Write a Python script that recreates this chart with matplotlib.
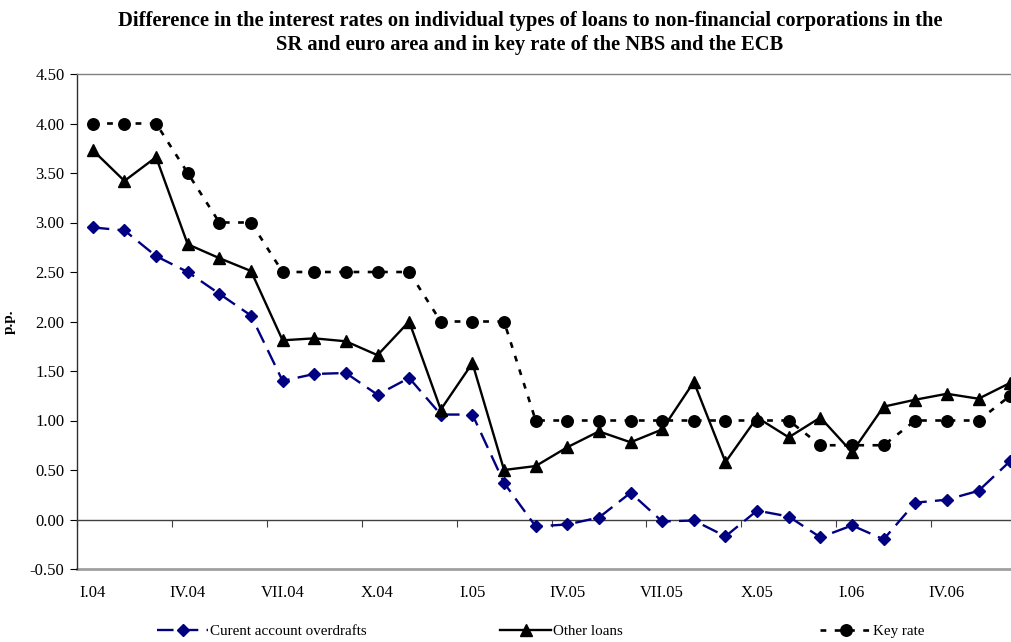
import matplotlib
matplotlib.use("Agg")
import matplotlib.pyplot as plt

plt.rcParams['font.family'] = ['Liberation Serif', 'DejaVu Serif']

months = ["I.04", "II.04", "III.04", "IV.04", "V.04", "VI.04", "VII.04", "VIII.04", "IX.04",
          "X.04", "XI.04", "XII.04", "I.05", "II.05", "III.05", "IV.05", "V.05", "VI.05",
          "VII.05", "VIII.05", "IX.05", "X.05", "XI.05", "XII.05", "I.06", "II.06", "III.06",
          "IV.06", "V.06", "VI.06"]

overdrafts = [2.95, 2.92, 2.66, 2.50, 2.28, 2.06, 1.40, 1.47, 1.48, 1.26,
              1.43, 1.06, 1.06, 0.37, -0.07, -0.05, 0.02, 0.27, -0.02, -0.01,
              -0.17, 0.09, 0.03, -0.18, -0.06, -0.20, 0.17, 0.20, 0.29, 0.59]
other_loans = [3.73, 3.42, 3.66, 2.78, 2.64, 2.51, 1.81, 1.83, 1.80, 1.66,
               2.00, 1.11, 1.58, 0.50, 0.54, 0.73, 0.89, 0.78, 0.91, 1.39,
               0.58, 1.03, 0.83, 1.03, 0.68, 1.14, 1.21, 1.27, 1.22, 1.38]
key_rate = [4.00, 4.00, 4.00, 3.50, 3.00, 3.00, 2.50, 2.50, 2.50, 2.50,
            2.50, 2.00, 2.00, 2.00, 1.00, 1.00, 1.00, 1.00, 1.00, 1.00,
            1.00, 1.00, 1.00, 0.75, 0.75, 0.75, 1.00, 1.00, 1.00, 1.25]

series_labels = ["Curent account overdrafts", "Other loans", "Key rate"]
yticks = [-0.5, 0.0, 0.5, 1.0, 1.5, 2.0, 2.5, 3.0, 3.5, 4.0, 4.5]

W, H = 1011, 642
fig = plt.figure(figsize=(W / 100, H / 100), dpi=100)
ax = fig.add_axes([77 / W, 1 - 569 / H, (1026 - 77) / W, (569 - 74) / H])

x = list(range(len(months)))

l1, = ax.plot(x, overdrafts, color='#000080', lw=1.7, dashes=(7, 3.5),
              marker='D', markersize=6.5, markerfacecolor='#000080',
              markeredgecolor='#000080', zorder=3)
l2, = ax.plot(x, other_loans, color='black', lw=1.7, linestyle='-',
              marker='^', markersize=8, markerfacecolor='black',
              markeredgecolor='black', zorder=4)
l3, = ax.plot(x, key_rate, color='black', lw=1.9, dashes=(2.2, 3.2),
              marker='o', markersize=8.3, markerfacecolor='black',
              markeredgecolor='black', zorder=5)

ax.set_xlim(-0.5, len(months) - 0.5)
ax.set_ylim(-0.5, 4.5)
ax.set_yticks(yticks)
ax.set_yticklabels([f"{v:.2f}" for v in yticks], fontsize=12)

# x axis crossing at zero, labels every quarter placed below the plot area
ax.spines['bottom'].set_position(('data', 0))
ax.spines['bottom'].set_color('#404040')
ax.spines['bottom'].set_linewidth(1.0)
ax.set_xticks([i - 0.5 for i in range(0, len(months), 3)] + [len(months) - 0.5])
ax.set_xticklabels([])
ax.set_xticks(list(range(0, len(months), 3)), minor=True)
ax.set_xticklabels([months[i] for i in range(0, len(months), 3)], minor=True, fontsize=12)
ax.tick_params(axis='x', which='major', direction='out', length=5, width=0.8, color='#404040')
ax.tick_params(axis='x', which='minor', length=0, pad=47)
ax.tick_params(axis='y', direction='out', length=5, width=0.8, pad=4)

ax.spines['left'].set_color('#303030')
ax.spines['left'].set_linewidth(1.0)
ax.spines['top'].set_color('#808080')
ax.spines['top'].set_linewidth(1.0)
ax.spines['right'].set_visible(False)
ax.axhline(-0.5, color='#a0a0a0', lw=2.0, zorder=1, clip_on=False)

ax.set_ylabel("p.p.", fontsize=11, fontweight='bold')
ax.yaxis.set_label_coords((16 - 77) / 949, 0.5)

fig.text(530 / W, 1 - 21 / H,
         "Difference in the interest rates on individual types of loans to non-financial corporations in the",
         ha='center', va='center', fontsize=14.8, fontweight='bold')
fig.text(530 / W, 1 - 45 / H,
         "SR and euro area and in key rate of the NBS and the ECB",
         ha='center', va='center', fontsize=14.8, fontweight='bold')

legend_starts = [157, 500, 820]
for handle, label, xs in zip([l1, l2, l3], series_labels, legend_starts):
    fig.legend([handle], [label], loc='center left',
               bbox_to_anchor=(xs / W, 1 - 631 / H), frameon=False,
               fontsize=10.8, handlelength=3.4, handletextpad=0.15,
               borderpad=0, borderaxespad=0)

fig.savefig("out.png", dpi=100)
